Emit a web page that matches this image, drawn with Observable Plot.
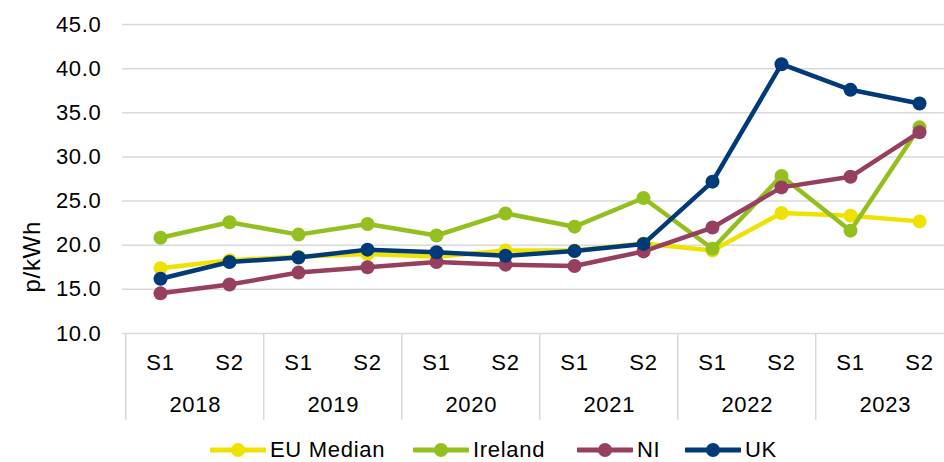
<!DOCTYPE html>
<html>
<head>
<meta charset="utf-8">
<script src="https://cdn.jsdelivr.net/npm/d3@7"></script>
<script src="https://cdn.jsdelivr.net/npm/@observablehq/plot@0.6"></script>
<style>
  html, body { margin: 0; padding: 0; background: #fff; overflow: hidden; }
  #chart svg { display: block; }
  #legend { position: relative; height: 38px; font-family: "Liberation Sans", Arial, sans-serif; font-size: 22px; letter-spacing: 0.7px; color: #000; }
  .item { position: absolute; top: 15px; height: 22px; line-height: 22px; display: flex; align-items: center; }
  .item svg { margin-right: 4px; }
  #chart svg text { letter-spacing: 0.7px; }
</style>
</head>
<body>
<div id="chart"></div>
<div id="legend"></div>
<script>
const years = ["2018", "2019", "2020", "2021", "2022", "2023"];
const halves = ["S1", "S2"];
const seriesNames = ["EU Median", "Ireland", "NI", "UK"];
const seriesColors = ["#EFE200", "#93C01F", "#963F5F", "#003A78"];
const euMedian = [17.4, 18.3, 18.7, 19.0, 18.7, 19.4, 19.4, 20.2, 19.4, 23.65, 23.35, 22.7];
const ireland  = [20.85, 22.6, 21.2, 22.4, 21.1, 23.6, 22.1, 25.35, 19.6, 27.85, 21.65, 33.35];
const ni       = [14.55, 15.55, 16.9, 17.5, 18.1, 17.8, 17.65, 19.3, 22.0, 26.55, 27.75, 32.8];
const uk       = [16.2, 18.1, 18.6, 19.5, 19.2, 18.8, 19.35, 20.15, 27.2, 40.5, 37.6, 36.05];
const yTicks = [10, 15, 20, 25, 30, 35, 40, 45];

const seriesValues = [euMedian, ireland, ni, uk];
const cats = years.flatMap(y => halves.map(h => ({key: y + " " + h, year: y, half: h})));
const keys = cats.map(c => c.key);
const yearFirst = years.map(y => ({year: y, key: y + " S1"}));

const marks = [
  Plot.ruleY(yTicks, {y: d => d, stroke: "#d9d9d9", strokeWidth: 1.5}),
  Plot.ruleX(yearFirst, {x: "key", dx: -34.75, stroke: "#d9d9d9", strokeWidth: 1.5, insetTop: 309}),
  Plot.axisY(yTicks, {tickFormat: d => d.toFixed(1), tickSize: 0, tickPadding: 21, fontSize: 22, fill: "#000", label: null}),
  Plot.text(cats, {x: "key", text: "half", frameAnchor: "bottom", dy: -51, fontSize: 22, fill: "#000"}),
  Plot.text(yearFirst, {x: "key", text: "year", frameAnchor: "bottom", dy: -9, dx: 34.75, fontSize: 22, fill: "#000"}),
  Plot.text(["p/kWh"], {text: d => d, frameAnchor: "left", rotate: -90, dx: -90, dy: 70, fontSize: 24, fill: "#000"})
];

seriesNames.forEach((name, i) => {
  const rows = keys.map((k, j) => ({key: k, value: seriesValues[i][j], series: name}));
  marks.push(Plot.line(rows, {x: "key", y: "value", stroke: seriesColors[i], strokeWidth: 4.5, strokeLinejoin: "round"}));
  marks.push(Plot.dot(rows, {x: "key", y: "value", r: 7, fill: seriesColors[i], stroke: "none"}));
});

const chart = Plot.plot({
  width: 944,
  height: 424,
  marginTop: 24,
  marginBottom: 4,
  marginLeft: 122,
  marginRight: 0,
  style: {fontFamily: "'Liberation Sans', Arial, sans-serif", fontSize: "22px", color: "#000", background: "#fff"},
  x: {type: "point", domain: keys, range: [156.75, 921.25], padding: 0, axis: null},
  y: {domain: [10, 45], range: [333, 24], axis: null},
  marks
});
document.getElementById("chart").appendChild(chart);

const legendLefts = [210, 413, 577, 685];
const legend = document.getElementById("legend");
seriesNames.forEach((name, i) => {
  const item = document.createElement("div");
  item.className = "item";
  item.style.left = legendLefts[i] + "px";
  item.innerHTML = `<svg width="56" height="16"><line x1="1" x2="55" y1="8" y2="8" stroke="${seriesColors[i]}" stroke-width="5" stroke-linecap="round"/><circle cx="28" cy="8" r="7" fill="${seriesColors[i]}"/></svg><span>${name}</span>`;
  legend.appendChild(item);
});
</script>
</body>
</html>
